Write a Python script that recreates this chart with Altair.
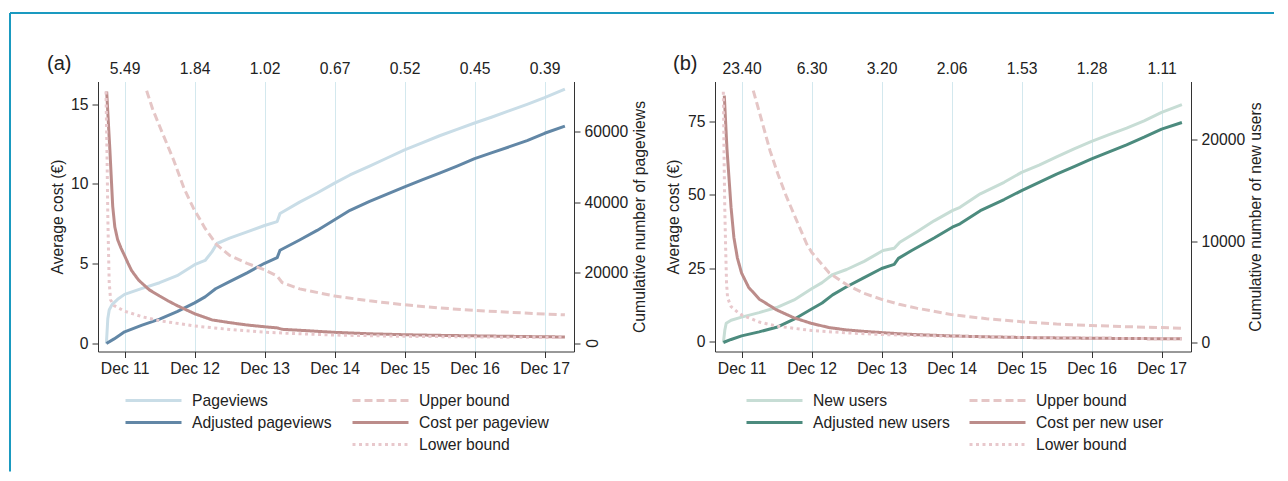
import json
import altair as alt
import pandas as pd

FONT = "Liberation Sans"
INK = "#222222"
AXIS = "#333333"
GRID = "#d3e8ee"
BORDER = "#1a9ac0"
FS = 15.7

X_DOMAIN = [10.62, 17.42]
X_TICKS = [11, 12, 13, 14, 15, 16, 17]
W, H = 476, 270

# ---------------- Panel (a): pageviews ----------------
a_top_labels = ["5.49", "1.84", "1.02", "0.67", "0.52", "0.45", "0.39"]

a_pv_day = [10.74, 10.76, 10.78, 10.82, 10.90, 11.00, 11.25, 11.50, 11.75, 12.00, 12.15, 12.25,
            12.32, 12.50, 12.75, 13.00, 13.18, 13.22, 13.50, 13.75, 14.00, 14.22, 14.50, 14.75,
            15.00, 15.25, 15.50, 15.75, 16.00, 16.25, 16.50, 16.75, 17.00, 17.29]
a_pv_val = [0, 7000, 9500, 11000, 12500, 13900, 15600, 17200, 19200, 22300, 23500, 26000,
            28300, 29800, 31600, 33400, 34500, 36800, 40000, 42600, 45400, 47700, 50200, 52500,
            54800, 56800, 58800, 60600, 62400, 64100, 65900, 67700, 69600, 72000]

a_adj_day = [10.74, 10.85, 11.00, 11.25, 11.50, 11.75, 12.00, 12.15, 12.30, 12.50, 12.75, 13.00,
             13.18, 13.22, 13.50, 13.75, 14.00, 14.22, 14.50, 14.75, 15.00, 15.25, 15.50, 15.75,
             16.00, 16.25, 16.50, 16.75, 17.00, 17.29]
a_adj_val = [0, 1300, 3300, 5200, 6900, 9000, 11500, 13200, 15500, 17500, 20000, 22700,
             24300, 26400, 29300, 32000, 35000, 37700, 40200, 42300, 44300, 46300, 48200, 50200,
             52300, 54000, 55700, 57400, 59500, 61500]

a_up_day = [11.315, 11.40, 11.53, 11.70, 11.85, 11.98, 12.15, 12.31, 12.50, 12.75, 13.00, 13.18,
            13.25, 13.50, 14.00, 14.50, 15.00, 15.50, 16.00, 16.50, 17.00, 17.29]
a_up_val = [15.85, 14.7, 13.3, 11.5, 9.7, 8.5, 7.2, 6.2, 5.5, 5.0, 4.6, 4.2,
            3.8, 3.4, 2.95, 2.65, 2.4, 2.2, 2.05, 1.93, 1.82, 1.77]

a_cost_day = [10.744, 10.79, 10.83, 10.86, 10.90, 10.95, 11.00, 11.05, 11.10, 11.20, 11.35, 11.50,
              11.62, 11.75, 12.00, 12.25, 12.50, 12.75, 13.00, 13.18, 13.25, 13.50, 14.00, 14.50,
              15.00, 15.50, 16.00, 16.50, 17.00, 17.29]
a_cost_val = [15.8, 12.1, 8.6, 7.3, 6.5, 5.95, 5.49, 5.0, 4.55, 3.95, 3.35, 2.95,
              2.65, 2.35, 1.84, 1.45, 1.28, 1.13, 1.02, 0.95, 0.86, 0.80, 0.67, 0.58,
              0.52, 0.48, 0.45, 0.42, 0.39, 0.38]

a_low_day = [10.734, 10.75, 10.76, 10.77, 10.78, 10.80, 10.85, 11.00, 11.25, 11.50, 12.00, 12.50,
             13.00, 13.50, 14.00, 15.00, 16.00, 17.00, 17.29]
a_low_val = [15.8, 11.5, 8.0, 5.8, 3.8, 2.7, 2.35, 2.0, 1.65, 1.4, 1.07, 0.85,
             0.68, 0.58, 0.50, 0.42, 0.38, 0.35, 0.34]

a_zero_label = ["0"]

# ---------------- Panel (b): new users ----------------
b_top_labels = ["23.40", "6.30", "3.20", "2.06", "1.53", "1.28", "1.11"]

b_nu_day = [10.74, 10.76, 10.78, 10.85, 11.00, 11.25, 11.50, 11.75, 12.00, 12.15, 12.30, 12.50,
            12.75, 13.02, 13.18, 13.26, 13.50, 13.75, 14.01, 14.12, 14.41, 14.75, 15.00, 15.25,
            15.50, 15.75, 16.00, 16.25, 16.50, 16.75, 17.00, 17.29]
b_nu_val = [0, 1200, 1900, 2200, 2500, 2950, 3450, 4200, 5300, 5900, 6700, 7200,
            8000, 9070, 9300, 9890, 10900, 12000, 13000, 13330, 14660, 15800, 16780, 17500,
            18300, 19100, 19830, 20500, 21150, 21850, 22690, 23450]

b_adj_day = [10.74, 10.85, 11.00, 11.25, 11.50, 11.75, 12.00, 12.15, 12.30, 12.50, 12.75, 13.00,
             13.18, 13.24, 13.43, 13.75, 14.01, 14.12, 14.41, 14.75, 15.00, 15.25, 15.50, 15.75,
             16.00, 16.25, 16.50, 16.75, 17.00, 17.29]
b_adj_val = [0, 300, 650, 1050, 1500, 2300, 3300, 3900, 4700, 5500, 6400, 7300,
             7700, 8300, 9070, 10300, 11370, 11700, 13000, 14100, 14980, 15800, 16600, 17350,
             18100, 18800, 19500, 20250, 21050, 21700]

b_up_day = [11.167, 11.29, 11.406, 11.52, 11.644, 11.80, 11.93, 12.00, 12.25, 12.50, 12.75, 13.00,
            13.25, 13.50, 14.00, 14.50, 15.00, 15.50, 16.00, 16.50, 17.00, 17.29]
b_up_val = [85.4, 75, 65, 57, 49.2, 40.5, 33.3, 30.5, 23.5, 19.5, 16.5, 14.5,
            12.8, 11.5, 9.3, 7.9, 6.9, 6.1, 5.6, 5.2, 4.9, 4.7]

b_cost_day = [10.753, 10.79, 10.849, 10.89, 10.94, 11.00, 11.10, 11.25, 11.50, 11.75, 12.00, 12.25,
              12.50, 12.75, 13.00, 13.25, 13.50, 14.00, 14.50, 15.00, 15.50, 16.00, 16.50, 17.00, 17.29]
b_cost_val = [83.7, 66, 45.8, 35.5, 28.5, 23.4, 18.6, 14.6, 10.9, 8.2, 6.3, 4.9,
              4.1, 3.6, 3.2, 2.8, 2.5, 2.06, 1.76, 1.53, 1.39, 1.28, 1.19, 1.11, 1.07]

b_low_day = [10.739, 10.75, 10.76, 10.773, 10.785, 10.80, 10.85, 10.95, 11.00, 11.25, 11.50, 12.00,
             12.50, 13.00, 13.50, 14.00, 15.00, 16.00, 17.00, 17.29]
b_low_val = [85, 62, 45, 31, 20, 15, 12, 10, 9.2, 6.8, 5.4, 3.9,
             3.1, 2.55, 2.2, 1.95, 1.55, 1.28, 1.10, 1.06]

COST_DASHES = [[8, 4], [1, 0], [3, 3.5]]


def frame(days, vals, name):
    return pd.DataFrame({"day": days, "value": vals, "series": name})


def legend(x, y):
    return alt.Legend(orient="none", legendX=x, legendY=y, title=None, symbolType="stroke",
                      symbolSize=3136, symbolStrokeWidth=3, labelFont=FONT, labelFontSize=FS,
                      labelColor=INK, clipHeight=16, rowPadding=6, labelOffset=9, padding=0,
                      direction="vertical")


def panel(tag, tag_dx, top_labels, counts, count_colors, costs, cost_colors,
          left_dom, left_ticks, right_dom, right_ticks, right_title, leg1_x, leg2_x,
          left_title_x, right_title_x, rotated_zero=None, extra=None):
    xs = alt.Scale(domain=X_DOMAIN, nice=False, zero=False)
    x_top = alt.X("day:Q", scale=xs, title=None,
                  axis=alt.Axis(orient="top", values=X_TICKS, ticks=False, tickSize=0, domain=False,
                                grid=False, labelPadding=5, labelFlush=False,
                                labelExpr=json.dumps(top_labels) + "[datum.value - 11]"))
    x_bot = alt.X("day:Q", scale=xs, title=None,
                  axis=alt.Axis(orient="bottom", values=X_TICKS, grid=True, gridColor=GRID,
                                gridWidth=1, labelFlush=False, labelExpr="'Dec ' + datum.value"))

    right_scale = alt.Scale(domain=right_dom, nice=False, zero=False)
    right_expr = "format(datum.value, 'd')"
    if rotated_zero:
        right_expr = "datum.value === 0 ? '' : format(datum.value, 'd')"

    count_df = pd.concat([frame(d, v, n) for n, d, v in counts])
    count_names = [n for n, _, _ in counts]
    count_layer = alt.Chart(count_df).mark_line(strokeWidth=3, strokeJoin="round").encode(
        x=x_top,
        y=alt.Y("value:Q", scale=right_scale,
                axis=alt.Axis(orient="right", values=right_ticks, title=right_title,
                              labelExpr=right_expr, titleAngle=270, titleX=right_title_x,
                              titleBaseline="middle")),
        color=alt.Color("series:N", scale=alt.Scale(domain=count_names, range=count_colors),
                        legend=legend(leg1_x, 311)),
    )

    cost_df = pd.concat([frame(d, v, n) for n, d, v in costs])
    cost_names = [n for n, _, _ in costs]
    enc = dict(
        x=x_bot,
        y=alt.Y("value:Q", scale=alt.Scale(domain=left_dom, nice=False, zero=False),
                axis=alt.Axis(orient="left", values=left_ticks, title="Average cost (€)",
                              titleAngle=270, titleX=left_title_x, titleBaseline="middle")),
        color=alt.Color("series:N", scale=alt.Scale(domain=cost_names, range=cost_colors),
                        legend=legend(leg2_x, 311)),
        strokeDash=alt.StrokeDash("series:N", scale=alt.Scale(domain=cost_names, range=COST_DASHES),
                                  legend=legend(leg2_x, 311)),
    )
    cost_layer = alt.layer(*[
        alt.Chart(cost_df).transform_filter(alt.datum.series == n)
        .mark_line(strokeWidth=3, strokeJoin="round").encode(**enc)
        for n in cost_names
    ])

    tag_layer = alt.Chart(alt.Data(values=[{"t": tag}])).mark_text(
        align="left", baseline="middle", fontSize=20, font=FONT, color=INK
    ).encode(text="t:N", x=alt.value(tag_dx), y=alt.value(-18))

    layers = [count_layer, cost_layer, tag_layer]
    if rotated_zero:
        zdf = pd.DataFrame({"v": [0], "t": rotated_zero})
        layers.append(
            alt.Chart(zdf).mark_text(angle=270, align="center", baseline="top", font=FONT,
                                     fontSize=FS, color=INK)
            .encode(text="t:N", x=alt.value(W + 12),
                    y=alt.Y("v:Q", scale=right_scale, axis=None))
        )
    layers += (extra or [])
    return alt.layer(*layers).resolve_scale(
        y="independent", color="independent", strokeDash="independent"
    ).resolve_axis(x="independent").properties(width=W, height=H)


one = alt.Data(values=[{}])
border = [
    alt.Chart(one).mark_rule(color=BORDER, strokeWidth=2).encode(
        x=alt.value(-88), x2=alt.value(1176), y=alt.value(-68.5)),
    alt.Chart(one).mark_rule(color=BORDER, strokeWidth=2).encode(
        x=alt.value(-88), y=alt.value(-68.5), y2=alt.value(390)),
]

pa = panel(
    "(a)", -51, a_top_labels,
    [("Pageviews", a_pv_day, a_pv_val), ("Adjusted pageviews", a_adj_day, a_adj_val)],
    ["#c9dde7", "#6287a6"],
    [("Upper bound", a_up_day, a_up_val), ("Cost per pageview", a_cost_day, a_cost_val),
     ("Lower bound", a_low_day, a_low_val)],
    ["#e5c6c6", "#bc8c8a", "#e8c8cc"],
    [-0.534, 16.43], [0, 5, 10, 15], [-2264, 74150], [0, 20000, 40000, 60000],
    "Cumulative number of pageviews", 26, 253, -41, 65,
    rotated_zero=a_zero_label, extra=border,
)

pb = panel(
    "(b)", -42, b_top_labels,
    [("New users", b_nu_day, b_nu_val), ("Adjusted new users", b_adj_day, b_adj_val)],
    ["#c7ddd5", "#4c8b7e"],
    [("Upper bound", b_up_day, b_up_val), ("Cost per new user", b_cost_day, b_cost_val),
     ("Lower bound", b_low_day, b_low_val)],
    ["#e5c6c6", "#bc8c8a", "#e8c8cc"],
    [-3.23, 88.5], [0, 25, 50, 75], [-888, 25740], [0, 10000, 20000],
    "Cumulative number of new users", 30, 253, -42, 64,
)

chart = alt.hconcat(pa, pb, spacing=141, bounds="flush").resolve_scale(
    x="independent", y="independent", color="independent", strokeDash="independent"
).properties(
    padding={"left": 1, "top": 3.5, "right": 0, "bottom": 0}
).configure_view(stroke=None).configure_axis(
    labelFont=FONT, titleFont=FONT, labelFontSize=FS, titleFontSize=FS,
    labelColor=INK, titleColor=INK, titleFontWeight="normal",
    domainColor=AXIS, tickColor=AXIS, domainWidth=1, tickWidth=1,
    tickSize=6, labelPadding=4, grid=False, labelOverlap=False,
)

chart.save("out.html", embed_options={"renderer": "svg", "actions": False})
